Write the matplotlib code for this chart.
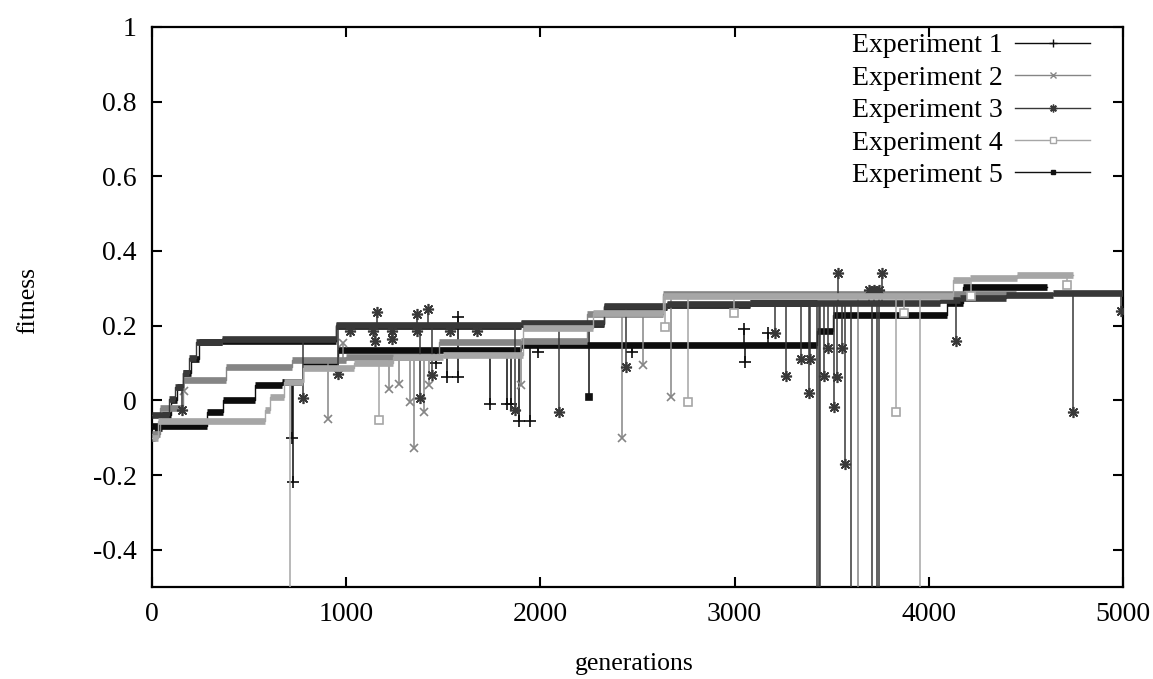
import numpy as np
import matplotlib
matplotlib.use("Agg")
import matplotlib.pyplot as plt
from matplotlib.lines import Line2D

plt.rcParams['font.family'] = ['Liberation Serif', 'DejaVu Serif']

# ---------------- data ----------------
labels = ["Experiment 1", "Experiment 2", "Experiment 3", "Experiment 4", "Experiment 5"]

# step levels: generation where a level starts, and the fitness level
e1_gen = [0, 283, 365, 530, 670, 780, 960, 1900, 3425, 3505, 4095, 4175, 4610]
e1_fit = [-0.07, -0.03, 0.0, 0.04, 0.05, 0.10, 0.135, 0.148, 0.186, 0.228, 0.26, 0.303, 0.303]
e1_spk_gen = [722, 725, 1460, 1520, 1575, 1575, 1740, 1830, 1850, 1890, 1945, 1990, 2470, 3050, 3055, 3170]
e1_spk_fit = [-0.10, -0.22, 0.10, 0.063, 0.063, 0.223, -0.01, -0.01, -0.01, -0.055, -0.055, 0.13, 0.13, 0.19, 0.103, 0.18]

e2_gen = [0, 40, 160, 380, 720, 1000, 1480, 1900, 2240, 2630, 4450]
e2_fit = [-0.09, -0.02, 0.054, 0.09, 0.108, 0.115, 0.157, 0.16, 0.23, 0.285, 0.285]
e2_spk_gen = [165, 905, 985, 1220, 1270, 1330, 1350, 1400, 1425, 1900, 2420, 2530, 2670, 3635]
e2_spk_fit = [0.025, -0.05, 0.153, 0.03, 0.044, -0.004, -0.128, -0.03, 0.04, 0.04, -0.10, 0.095, 0.01, -1.0]

e3_gen = [0, 90, 120, 160, 190, 225, 360, 950, 1900, 2330, 2650, 3080, 4060, 4160, 4400, 4640, 5000]
e3_fit = [-0.04, 0.003, 0.036, 0.073, 0.113, 0.156, 0.164, 0.203, 0.207, 0.252, 0.258, 0.262, 0.268, 0.274, 0.282, 0.287, 0.287]
e3_spk_gen = [155, 780, 960, 1020, 1140, 1150, 1160, 1235, 1235, 1365, 1365, 1380, 1420, 1440, 1535, 1675, 1870,
              2095, 2440, 3210, 3265, 3340, 3385, 3390, 3425, 3434, 3440, 3460, 3480, 3510, 3525, 3530, 3555,
              3570, 3600, 3690, 3710, 3720, 3735, 3742, 3745, 3760, 4140, 4740, 4990]
e3_spk_fit = [-0.027, 0.006, 0.07, 0.185, 0.185, 0.16, 0.237, 0.164, 0.185, 0.185, 0.23, 0.006, 0.244, 0.068, 0.185,
              0.185, -0.026, -0.03, 0.09, 0.18, 0.065, 0.11, 0.02, 0.11, -1.0, -1.0, -1.0, 0.065, 0.14, -0.018,
              0.062, 0.34, 0.14, -0.17, -1.0, 0.295, -1.0, 0.295, -1.0, -1.0, 0.295, 0.34, 0.159, -0.03, 0.24]

e4_gen = [0, 30, 580, 610, 680, 780, 1040, 1240, 1500, 1910, 2270, 2630, 4125, 4210, 4455, 4745]
e4_fit = [-0.10, -0.055, -0.027, 0.01, 0.05, 0.086, 0.10, 0.116, 0.121, 0.193, 0.234, 0.28, 0.322, 0.328, 0.336, 0.336]
e4_spk_gen = [710, 1170, 2640, 2760, 2995, 3830, 3870, 3955, 4215, 4710]
e4_spk_fit = [-1.0, -0.053, 0.197, -0.005, 0.234, -0.03, 0.234, -1.0, 0.28, 0.31]

e5_gen = [0, 15, 50, 100, 130, 160, 200, 240, 360, 950, 1900, 2330, 2650, 3080, 3425]
e5_fit = [-0.10, -0.075, -0.04, 0.0, 0.035, 0.073, 0.11, 0.155, 0.16, 0.2, 0.205, 0.25, 0.255, 0.26, 0.26]
e5_spk_gen = [2250]
e5_spk_fit = [0.01]

x_ticks = [0, 1000, 2000, 3000, 4000, 5000]
y_ticks = [-0.4, -0.2, 0, 0.2, 0.4, 0.6, 0.8, 1]
y_tick_labels = ["-0.4", "-0.2", "0", "0.2", "0.4", "0.6", "0.8", "1"]

# ---------------- styles ----------------
series = [
    dict(gen=e1_gen, fit=e1_fit, sg=e1_spk_gen, sf=e1_spk_fit, color="#0c0c0c",
         marker="+", ms=8, mfc="#0c0c0c", z=3),
    dict(gen=e2_gen, fit=e2_fit, sg=e2_spk_gen, sf=e2_spk_fit, color="#858585",
         marker="x", ms=6, mfc="#858585", z=4),
    dict(gen=e3_gen, fit=e3_fit, sg=e3_spk_gen, sf=e3_spk_fit, color="#383838",
         marker=(8, 2, 0), ms=8, mfc="#383838", z=5),
    dict(gen=e4_gen, fit=e4_fit, sg=e4_spk_gen, sf=e4_spk_fit, color="#a6a6a6",
         marker="s", ms=6, mfc="white", z=6),
    dict(gen=e5_gen, fit=e5_fit, sg=e5_spk_gen, sf=e5_spk_fit, color="#111111",
         marker="s", ms=5, mfc="#111111", z=2),
]

fig = plt.figure(figsize=(11.53, 6.79), dpi=100)
ax = fig.add_axes([152 / 1153, 1 - 587 / 679, 971 / 1153, 560 / 679])

for s in series:
    g = np.asarray(s["gen"], float)
    f = np.asarray(s["fit"], float)
    c = s["color"]
    # thin connecting step line
    ax.step(g, f, where="post", color=c, lw=1.0, zorder=s["z"])
    # thick bands for each level (dense points in the original)
    ax.hlines(f[:-1], g[:-1], g[1:], colors=c, lw=4.8, zorder=s["z"])
    # spikes
    sg = np.asarray(s["sg"], float)
    sf = np.asarray(s["sf"], float)
    idx = np.clip(np.searchsorted(g, sg, side="right") - 1, 0, len(f) - 1)
    base = f[idx]
    ax.vlines(sg, base, sf, colors=c, lw=1.1, zorder=s["z"])
    ax.plot(sg, sf, linestyle="none", marker=s["marker"], ms=s["ms"], mec=c,
            mfc=s["mfc"], mew=1.2, zorder=s["z"] + 0.5, clip_on=True)

ax.set_xlim(0, 5000)
ax.set_ylim(-0.5, 1)
ax.set_xticks(x_ticks)
ax.set_xticklabels([str(t) for t in x_ticks])
ax.set_yticks(y_ticks)
ax.set_yticklabels(y_tick_labels)
ax.tick_params(direction="in", length=7, width=1.5, top=True, right=True,
               labelsize=20, pad=11)
for sp in ax.spines.values():
    sp.set_linewidth(1.6)

fig.text(28 / 1153, 1 - 300 / 679, "fitness", rotation=90, ha="center", va="center", fontsize=18.5)
fig.text(634 / 1153, 1 - 664 / 679, "generations", ha="center", va="center", fontsize=18.5)

handles = [Line2D([0], [0], color=s["color"], lw=1.0, marker=s["marker"], ms=s["ms"] * 0.7,
                  mec=s["color"], mfc=s["mfc"], mew=1.0) for s in series]
leg = ax.legend(handles, labels, loc="upper right", bbox_to_anchor=((1090 - 152) / 971, (587 - 33) / 560),
                frameon=False, markerfirst=False, fontsize=20, handlelength=2.7, handletextpad=0.45,
                labelspacing=0.25, borderpad=0, borderaxespad=0)

fig.savefig("out.png", dpi=100, facecolor="white")
